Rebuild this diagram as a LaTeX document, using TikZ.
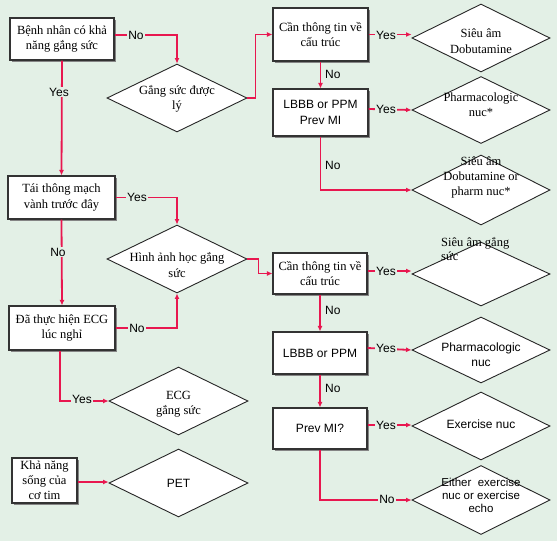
\documentclass[tikz,border=0pt]{standalone}
\usepackage{fontspec}
\setmainfont{Liberation Serif}
\setsansfont{Liberation Sans}
\usetikzlibrary{shapes.geometric,shadows,arrows.meta}
\definecolor{bg}{RGB}{227,240,230}
\definecolor{lnk}{RGB}{232,23,79}
\begin{document}
\begin{tikzpicture}[x=1pt,y=-1pt,
  box/.style={rectangle,draw=black!80,line width=1.1pt,fill=white,inner sep=1pt,align=center,
    font=\fontsize{12.5}{15.5}\selectfont,
    drop shadow={shadow xshift=2pt,shadow yshift=-2pt,fill=black!48,opacity=1}},
  sbox/.style={box,font=\sffamily\fontsize{12}{16}\selectfont},
  dia/.style={diamond,draw=black!85,line width=0.9pt,fill=white,inner sep=0pt},
  txt/.style={align=center,inner sep=0pt,font=\fontsize{12.5}{15.5}\selectfont},
  stxt/.style={align=center,inner sep=0pt,font=\sffamily\fontsize{12}{15}\selectfont},
  lab/.style={fill=bg,inner sep=1pt,font=\sffamily\fontsize{12}{14}\selectfont},
  rlab/.style={inner sep=1pt,anchor=west,font=\sffamily\fontsize{12}{14}\selectfont},
  arr/.style={draw=lnk,line width=1.8pt,-{Latex[length=5.5pt,width=5pt]}}]
\fill[bg] (0,0) rectangle (557,541);
\useasboundingbox (0,0) rectangle (557,541);

% left column boxes
\node[box,minimum width=104pt,minimum height=42pt] (b1) at (62,39) {Bệnh nhân có khả\\năng gắng sức};
\node[box,minimum width=107pt,minimum height=43pt] (b4) at (61.5,197.5) {Tái thông mạch\\vành trước đây};
\node[box,minimum width=106pt,minimum height=44pt] (b5) at (62,328) {Đã thực hiện ECG\\lúc nghỉ};
\node[box,minimum width=65pt,minimum height=45pt,inner sep=0pt,font=\fontsize{12.5}{15}\selectfont] (b6) at (44.5,480.5) {Khả năng\\sống của\\cơ tim};

% middle diamonds
\node[dia,minimum width=140pt,minimum height=68pt] (d1) at (177,98) {};
\node[txt] (t1) at (177,99) {Gắng sức được\\lý};
\node[dia,minimum width=140pt,minimum height=68pt] (d2) at (177,259) {};
\node[txt] (t2) at (177,265) {Hình ảnh học gắng\\sức};
\node[dia,minimum width=139pt,minimum height=68pt] (d3) at (178.5,401) {};
\node[txt] (t3) at (178.5,404) {ECG\\gắng sức};
\node[dia,minimum width=139pt,minimum height=68pt] (d4) at (178.5,483) {};
\node[stxt] (t4) at (178.5,483) {PET};

% right column boxes
\node[box,minimum width=95pt,minimum height=53pt] (b2) at (320.5,34.5) {Cần thông tin về\\cấu trúc};
\node[sbox,minimum width=95pt,minimum height=47pt] (b3) at (320.5,112.5) {LBBB or PPM\\Prev MI};
\node[box,minimum width=94pt,minimum height=41pt] (b7) at (320,273.5) {Cần thông tin về\\cấu trúc};
\node[sbox,minimum width=94pt,minimum height=42pt] (b8) at (320,353) {LBBB or PPM};
\node[sbox,minimum width=94pt,minimum height=41pt] (b9) at (320,428.5) {Prev MI?};

% right diamonds
\node[dia,minimum width=138pt,minimum height=68pt] (dd1) at (481,38) {};
\node[txt] (u1) at (481,41) {Siêu âm\\Dobutamine};
\node[dia,minimum width=138pt,minimum height=67pt] (dd2) at (481,110) {};
\node[txt] (u2) at (481,104.5) {Pharmacologic\\nuc*};
\node[dia,minimum width=138pt,minimum height=70pt] (dd3) at (481,190) {};
\node[txt,font=\fontsize{12.5}{15}\selectfont] (u3) at (481,177) {Siêu âm\\Dobutamine or\\pharm nuc*};
\node[dia,minimum width=138pt,minimum height=64pt] (dd4) at (481,274) {};
\node[txt,align=left,anchor=west,font=\fontsize{12.5}{14}\selectfont] (u4) at (441,249) {Siêu âm gắng\\sức};
\node[dia,minimum width=138pt,minimum height=66pt] (dd5) at (481,350) {};
\node[stxt] (u5) at (481,355) {Pharmacologic\\nuc};
\node[dia,minimum width=138pt,minimum height=68pt] (dd6) at (481,426) {};
\node[stxt] (u6) at (481,424) {Exercise nuc};
\node[dia,minimum width=138pt,minimum height=69pt] (dd7) at (481,500) {};
\node[stxt,font=\sffamily\fontsize{11.5}{13}\selectfont] (u7) at (481,495) {Either\ \ exercise\\nuc or exercise\\echo};

% connectors
\draw[arr] ([yshift=4pt]b1.east) -| (d1.north);
\node[lab] (l1) at (136,35) {No};
\draw[arr] (b1.south) -- (b4.north);
\node[lab] (l2) at (59,92) {Yes};
\draw[arr] (d1.east) -- ++(8,0) |- (b2.west);
\draw[arr] (b2.east) -- (b2.east -| dd1.west);
\node[lab] (l3) at (386,35) {Yes};
\draw[arr] (b2.south) -- (b3.north);
\node[rlab] (l4) at (324,74) {No};
\draw[arr] (b3.east |- 0,109) -- (dd2.west);
\node[lab] (l5) at (386,109) {Yes};
\draw[arr] (b3.south) |- (dd3.west);
\node[rlab] (l6) at (324,165) {No};

\draw[arr] (b4.east) -| (d2.north);
\node[lab] (l7) at (137,197) {Yes};
\draw[arr] (b4.south) -- (b5.north);
\node[lab] (l8) at (58,252) {No};
\draw[arr] (b5.east) -| (d2.south);
\node[lab] (l9) at (137,328) {No};
\draw[arr] (d2.east) -- ++(11,0) |- (b7.west);
\draw[arr] (b7.east |- 0,271) -- (dd4.west |- 0,271);
\node[lab] (l10) at (386,271) {Yes};
\draw[arr] (b7.south) -- (b8.north);
\node[rlab] (l11) at (324,310) {No};
\draw[arr] (b8.east |- 0,348) -- (dd5.west);
\node[lab] (l12) at (386,348) {Yes};
\draw[arr] (b8.south) -- (b9.north);
\node[rlab] (l13) at (324,388) {No};
\draw[arr] (b9.east |- 0,425) -- (dd6.west |- 0,425);
\node[lab] (l14) at (386,425) {Yes};
\draw[arr] (b9.south) |- (dd7.west);
\node[lab] (l15) at (387,499) {No};

\draw[arr] (b5.south -| 60,0) |- (d3.west);
\node[lab] (l16) at (82,399) {Yes};
\draw[arr] (b6.east |- 0,482) -- (d4.west |- 0,482);
\end{tikzpicture}
\end{document}
